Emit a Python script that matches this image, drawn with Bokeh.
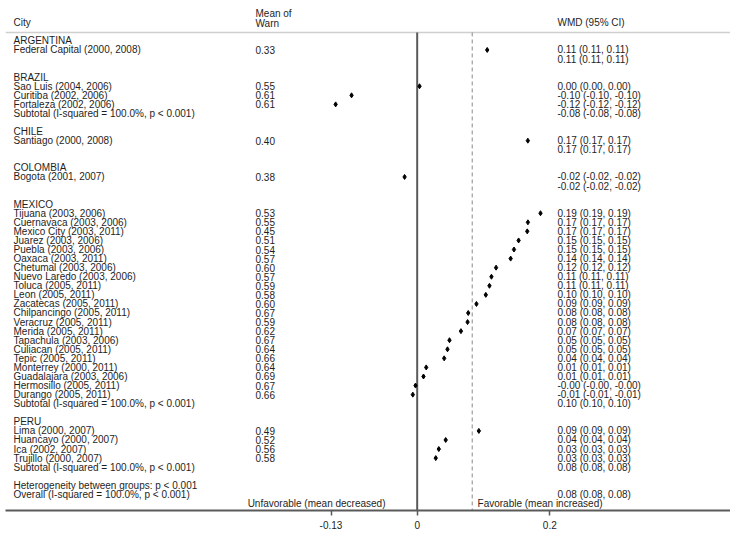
from bokeh.plotting import figure
from bokeh.models import ColumnDataSource, Range1d, FixedTicker
from bokeh.embed import file_html
from bokeh.resources import INLINE
from bokeh.core.properties import value

# ---------------- data ----------------
countries = ["ARGENTINA", "BRAZIL", "CHILE", "COLOMBIA", "MEXICO", "PERU"]

argentina_cities = ["Federal Capital (2000, 2008)"]
argentina_warn = [0.33]
argentina_wmd = [0.1056]

brazil_cities = ["Sao Luis (2004, 2006)", "Curitiba (2002, 2006)", "Fortaleza (2002, 2006)"]
brazil_warn = [0.55, 0.61, 0.61]
brazil_wmd = [0.0035, -0.099, -0.123]

chile_cities = ["Santiago (2000, 2008)"]
chile_warn = [0.40]
chile_wmd = [0.1669]

colombia_cities = ["Bogota (2001, 2007)"]
colombia_warn = [0.38]
colombia_wmd = [-0.019]

mexico_cities = [
    "Tijuana (2003, 2006)", "Cuernavaca (2003, 2006)", "Mexico City (2003, 2011)",
    "Juarez (2003, 2006)", "Puebla (2003, 2006)", "Oaxaca (2003, 2011)",
    "Chetumal (2003, 2006)", "Nuevo Laredo (2003, 2006)", "Toluca (2005, 2011)",
    "Leon (2005, 2011)", "Zacatecas (2005, 2011)", "Chilpancingo (2005, 2011)",
    "Veracruz (2005, 2011)", "Merida (2005, 2011)", "Tapachula (2003, 2006)",
    "Culiacan (2005, 2011)", "Tepic (2005, 2011)", "Monterrey (2000, 2011)",
    "Guadalajara (2003, 2006)", "Hermosillo (2005, 2011)", "Durango (2005, 2011)",
]
mexico_warn = [0.53, 0.55, 0.45, 0.51, 0.54, 0.57, 0.60, 0.57, 0.59, 0.58, 0.60,
               0.67, 0.59, 0.62, 0.67, 0.64, 0.66, 0.64, 0.69, 0.67, 0.66]
mexico_wmd = [0.186, 0.167, 0.166, 0.153, 0.146, 0.141, 0.119, 0.112, 0.109, 0.1035,
              0.0894, 0.077, 0.076, 0.066, 0.0487, 0.0457, 0.0407, 0.0136, 0.0095,
              -0.0025, -0.0066]

peru_cities = ["Lima (2000, 2007)", "Huancayo (2000, 2007)", "Ica (2002, 2007)",
               "Trujillo (2000, 2007)"]
peru_warn = [0.49, 0.52, 0.56, 0.58]
peru_wmd = [0.093, 0.043, 0.0326, 0.028]

subtotal_wmd = [0.11, -0.08, 0.17, -0.02, 0.10, 0.08]
overall_wmd = 0.083

subtotal_text = "Subtotal  (I-squared = 100.0%, p < 0.001)"
het_text = "Heterogeneity between groups: p < 0.001"
overall_text = "Overall  (I-squared = 100.0%, p < 0.001)"
header_city = "City"
header_mean = ["Mean of", "Warn"]
header_wmd = "WMD (95% CI)"
label_unfav = "Unfavorable (mean decreased)"
label_fav = "Favorable (mean increased)"

tick_values = [-0.13, 0, 0.2]
tick_labels = ["-0.13", "0", "0.2"]

# ---------------- layout constants ----------------
X_LEFT = -0.621
X_RIGHT = 0.4726
X_CITY = -0.6089
X_MEAN = -0.2439
X_WMD = 0.2116
X_UNFAV = -0.0478
X_FAV = 0.0910
HEADER_LINE = -0.93
Y_TOP = -4.454
Y_BOTTOM = 51.775

groups = [
    (countries[0], argentina_cities, argentina_warn, argentina_wmd),
    (countries[1], brazil_cities, brazil_warn, brazil_wmd),
    (countries[2], chile_cities, chile_warn, chile_wmd),
    (countries[3], colombia_cities, colombia_warn, colombia_wmd),
    (countries[4], mexico_cities, mexico_warn, mexico_wmd),
    (countries[5], peru_cities, peru_warn, peru_wmd),
]


def ci(v):
    s = f"{v:.2f}"
    return f"{s} ({s}, {s})"


left_y, left_t = [], []
mean_y, mean_t = [], []
wmd_y, wmd_t = [], []
pt_x, pt_y = [], []

row = 0
for gi, (name, cities, warn, wmd) in enumerate(groups):
    left_y.append(row)
    left_t.append(name)
    row += 1
    for c, m, w in zip(cities, warn, wmd):
        left_y.append(row)
        left_t.append(c)
        mean_y.append(row)
        mean_t.append(f"{m:.2f}")
        wmd_y.append(row)
        wmd_t.append(ci(w))
        pt_x.append(w)
        pt_y.append(row)
        row += 1
    if len(cities) > 1:
        left_y.append(row)
        left_t.append(subtotal_text)
    wmd_y.append(row)
    wmd_t.append(ci(subtotal_wmd[gi]))
    row += 2

left_y.append(row)
left_t.append(het_text)
row += 1
left_y.append(row)
left_t.append(overall_text)
wmd_y.append(row)
wmd_t.append(ci(overall_wmd))
label_row = row + 1

p = figure(width=730, height=532, output_backend="svg", toolbar_location=None,
           x_range=Range1d(X_LEFT, X_RIGHT), y_range=Range1d(Y_BOTTOM, Y_TOP),
           y_axis_location=None, min_border_left=5, min_border_right=0,
           min_border_top=0, min_border_bottom=22)
p.outline_line_color = None
p.xgrid.visible = False
p.ygrid.visible = False
p.background_fill_color = "white"

# header separator
p.segment(x0=[X_LEFT], y0=[HEADER_LINE], x1=[X_RIGHT], y1=[HEADER_LINE],
          line_color="#cfcfcf", line_width=1.5)
# reference line at zero and overall dashed line
p.segment(x0=[0], y0=[HEADER_LINE], x1=[0], y1=[Y_BOTTOM],
          line_color="#5a5a5a", line_width=2)
p.segment(x0=[overall_wmd], y0=[HEADER_LINE], x1=[overall_wmd], y1=[Y_BOTTOM],
          line_color="#8a8a8a", line_width=1, line_dash="4 3")

font = value("Liberation Sans")
fs = "10px"
tc = "#1e1e1e"

p.text(x=[X_CITY] * len(left_y), y=left_y, text=left_t, text_font=font,
       text_font_size=fs, text_baseline="middle", text_align="left", text_color=tc)
p.text(x=[X_MEAN] * len(mean_y), y=mean_y, text=mean_t, text_font=font,
       text_font_size=fs, text_baseline="middle", text_align="left", text_color=tc)
p.text(x=[X_WMD] * len(wmd_y), y=wmd_y, text=wmd_t, text_font=font,
       text_font_size=fs, text_baseline="middle", text_align="left", text_color=tc)

# headers
p.text(x=[X_CITY, X_MEAN, X_MEAN, X_WMD], y=[-2.0, -3.0, -1.95, -2.0],
       text=[header_city, header_mean[0], header_mean[1], header_wmd], text_font=font,
       text_font_size=fs, text_baseline="middle", text_align="left", text_color=tc)

# favourable / unfavourable labels
p.text(x=[X_UNFAV], y=[label_row], text=[label_unfav], text_font=font,
       text_font_size=fs, text_baseline="middle", text_align="right", text_color=tc)
p.text(x=[X_FAV], y=[label_row], text=[label_fav], text_font=font,
       text_font_size=fs, text_baseline="middle", text_align="left", text_color=tc)

# point estimates
src = ColumnDataSource(dict(x=pt_x, y=pt_y))
p.scatter("x", "y", source=src, marker="diamond", size=5, fill_color="black",
          line_color="black", line_width=1)

ax = p.xaxis[0]
ax.ticker = FixedTicker(ticks=tick_values)
ax.major_label_overrides = {v: l for v, l in zip(tick_values, tick_labels)}
ax.axis_line_color = "#5a5a5a"
ax.axis_line_width = 2
ax.major_tick_line_color = "#5a5a5a"
ax.major_tick_line_width = 1.5
ax.major_tick_out = 5
ax.major_tick_in = 0
ax.minor_tick_out = 0
ax.minor_tick_in = 0
ax.major_label_text_font = "Liberation Sans"
ax.major_label_text_font_size = "10px"
ax.major_label_text_color = tc
ax.major_label_standoff = 5

open("out.html", "w").write(file_html(p, INLINE))
